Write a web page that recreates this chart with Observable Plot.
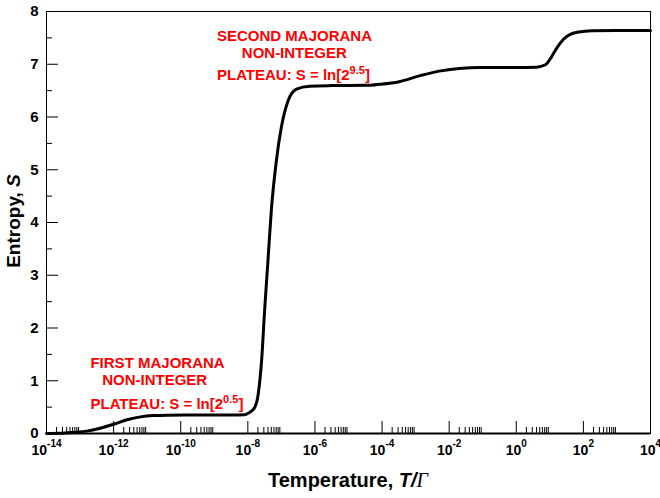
<!DOCTYPE html>
<html>
<head>
<meta charset="utf-8">
<script src="https://cdn.jsdelivr.net/npm/d3@7"></script>
<script src="https://cdn.jsdelivr.net/npm/@observablehq/plot@0.6"></script>
<style>
  html, body { margin: 0; padding: 0; background: #fff; }
  #chart svg { display: block; }
</style>
</head>
<body>
<div id="chart"></div>
<script>
// ---- data ----
const logTemperature = [
  -14, -13.6, -13.2, -12.8, -12.4, -12.0, -11.6, -11.2, -10.8, -10.4, -9.5, -8.5, -8.1,
  -7.95, -7.79, -7.69, -7.59, -7.5, -7.4, -7.3, -7.15, -7.0, -6.8, -6.55, -6.16,
  -5.5, -4.5, -4.08, -3.49, -2.89, -2.3, -1.7, -1.1, 0.0, 0.6,
  0.87, 1.05, 1.22, 1.4, 1.56, 1.86, 2.25, 3.0, 4.0
];
const entropy = [
  0, 0.003, 0.02, 0.045, 0.10, 0.175, 0.26, 0.315, 0.34, 0.348, 0.35, 0.35, 0.355,
  0.40, 0.50, 0.75, 1.38, 2.33, 3.28, 4.23, 5.17, 5.81, 6.31, 6.53, 6.585,
  6.595, 6.60, 6.62, 6.67, 6.78, 6.87, 6.92, 6.94, 6.94, 6.945,
  6.99, 7.14, 7.32, 7.47, 7.55, 7.61, 7.635, 7.64, 7.64
];

const xMajorTicks = [1e-14, 1e-12, 1e-10, 1e-8, 1e-6, 1e-4, 1e-2, 1e0, 1e2, 1e4];
const xMinorMultipliers = [2, 3, 4, 5, 6, 7, 8, 9];
const yMajorTicks = [0, 1, 2, 3, 4, 5, 6, 7, 8];
const yMinorTicks = [0.5, 1.5, 2.5, 3.5, 4.5, 5.5, 6.5, 7.5];

const annotationText = [
  "FIRST MAJORANA", "NON-INTEGER", "PLATEAU: S = ln[2^{0.5}]",
  "SECOND MAJORANA", "NON-INTEGER", "PLATEAU: S = ln[2^{9.5}]"
];
const annotationLogT = [-12.69, -12.34, -12.69, -8.92, -8.18, -8.92];
const annotationS = [1.235, 0.91, 0.47, 7.45, 7.11, 6.71];

const xTitle = "Temperature, ";
const yTitle = "Entropy, ";

// ---- build tables ----
const curve = logTemperature.map((e, i) => ({T: Math.pow(10, e), S: entropy[i]}));
const xMinorTicks = xMajorTicks.slice(0, -1).flatMap(t => xMinorMultipliers.map(k => k * t));
const annotations = annotationText.map((t, i) => ({text: t, T: Math.pow(10, annotationLogT[i]), S: annotationS[i]}));

const W = 660, H = 498;
const FONT = "'Liberation Sans', Arial, Helvetica, sans-serif";

const chart = Plot.plot({
  width: W,
  height: H,
  marginLeft: 46,
  marginRight: 10,
  marginTop: 11,
  marginBottom: 65,
  style: {fontFamily: FONT, background: "#fff", color: "#000"},
  x: {type: "log", domain: [1e-14, 1e4]},
  y: {domain: [0, 8]},
  marks: [
    Plot.frame({stroke: "#000", strokeWidth: 1}),
    Plot.ruleY([0], {stroke: "#000", strokeWidth: 2}),
    // inward x ticks
    Plot.ruleX(xMajorTicks.slice(1, -1), {x: d => d, y1: 0, y2: 0, insetTop: -12, stroke: "#000", strokeWidth: 1}),
    Plot.ruleX(xMinorTicks, {x: d => d, y1: 0, y2: 0, insetTop: -6, stroke: "#000", strokeWidth: 1}),
    // inward y ticks
    Plot.ruleY(yMajorTicks, {y: d => d, x1: 1e-14, x2: 1e-14, insetRight: -12, stroke: "#000", strokeWidth: 1}),
    Plot.ruleY(yMinorTicks, {y: d => d, x1: 1e-14, x2: 1e-14, insetRight: -6, stroke: "#000", strokeWidth: 1}),
    Plot.axisX(xMajorTicks, {
      tickSize: 0, tickPadding: 12, fontSize: 14, fontWeight: "bold", label: null,
      tickFormat: d => `10^{${Math.round(Math.log10(d))}}`
    }),
    Plot.axisY(yMajorTicks, {
      tickSize: 0, tickPadding: 8, fontSize: 15, fontWeight: "bold", label: null,
      tickFormat: d => String(d)
    }),
    Plot.line(curve, {x: "T", y: "S", curve: "monotone-x", stroke: "#000", strokeWidth: 3}),
    Plot.text(annotations, {
      x: "T", y: "S", text: "text", textAnchor: "start", lineAnchor: "bottom",
      fill: "#ff0000", fontSize: 15, fontWeight: "bold"
    })
  ]
});

document.getElementById("chart").appendChild(chart);

// superscripts: "base^{exp}rest"
const svg = d3.select(chart);
svg.selectAll("text").each(function () {
  const s = this.textContent;
  const m = s.match(/^(.*)\^\{(.*)\}(.*)$/);
  if (!m) return;
  const isTick = m[1] === "10";
  const t = d3.select(this);
  t.text(null);
  t.append("tspan").text(m[1]);
  t.append("tspan")
    .attr("dy", isTick ? -8 : -6)
    .attr("font-size", isTick ? 10 : 11)
    .text(m[2]);
  if (m[3]) {
    t.append("tspan").attr("dy", isTick ? 8 : 6).text(m[3]);
  }
});

// axis titles
svg.append("text")
  .attr("x", 348).attr("y", 487)
  .attr("text-anchor", "middle")
  .attr("font-family", FONT).attr("font-size", 20).attr("font-weight", "bold")
  .call(t => {
    t.append("tspan").text(xTitle);
    t.append("tspan").attr("font-style", "italic").text("T/");
    t.append("tspan").attr("font-family", "'Liberation Serif', 'DejaVu Serif', serif")
      .attr("font-style", "italic").attr("font-weight", "normal").text("Γ");
  });

svg.append("text")
  .attr("transform", "translate(20,221) rotate(-90)")
  .attr("text-anchor", "middle")
  .attr("font-family", FONT).attr("font-size", 19).attr("font-weight", "bold")
  .call(t => {
    t.append("tspan").text(yTitle);
    t.append("tspan").attr("font-style", "italic").text("S");
  });
</script>
</body>
</html>
